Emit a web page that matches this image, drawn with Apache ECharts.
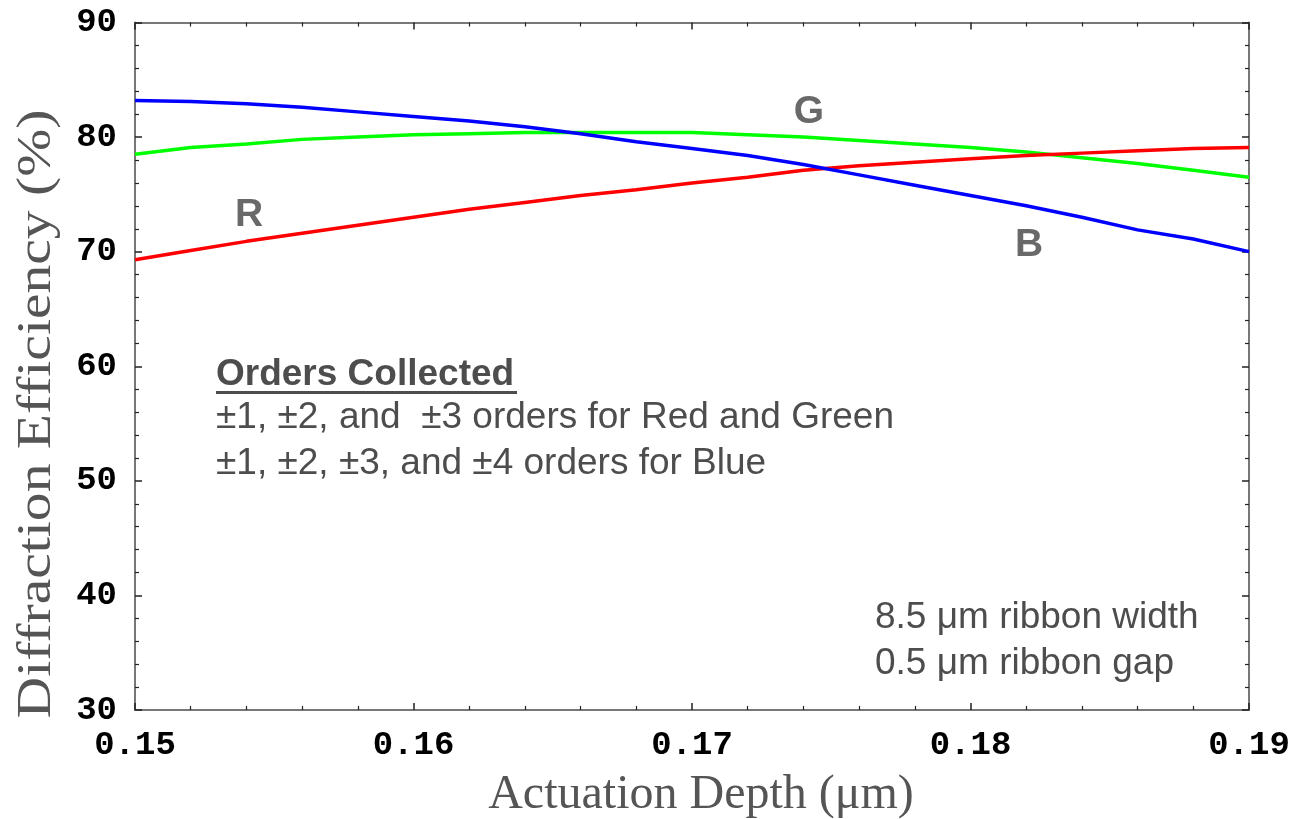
<!DOCTYPE html>
<html>
<head>
<meta charset="utf-8">
<title>Diffraction Efficiency vs Actuation Depth</title>
<script src="https://cdn.jsdelivr.net/npm/echarts@6/dist/echarts.min.js"></script>
<style>
  html, body { margin: 0; padding: 0; background: #fff; }
  #chart { width: 1295px; height: 819px; }
</style>
</head>
<body>
<div id="chart"></div>
<script>
// Actuation depth samples (µm)
const depths = [0.150, 0.152, 0.154, 0.156, 0.158, 0.160, 0.162, 0.164, 0.166, 0.168,
                0.170, 0.172, 0.174, 0.176, 0.178, 0.180, 0.182, 0.184, 0.186, 0.188, 0.190];

// Diffraction efficiency (%) per colour channel
const redEff   = [69.3, 70.1, 70.9, 71.6, 72.3, 73.0, 73.7, 74.3, 74.9, 75.4,
                  76.0, 76.5, 77.1, 77.5, 77.8, 78.1, 78.4, 78.6, 78.8, 79.0, 79.1];
const greenEff = [78.5, 79.1, 79.4, 79.8, 80.0, 80.2, 80.3, 80.4, 80.4, 80.4,
                  80.4, 80.2, 80.0, 79.7, 79.4, 79.1, 78.7, 78.2, 77.7, 77.1, 76.5];
const blueEff  = [83.2, 83.1, 82.9, 82.6, 82.2, 81.8, 81.4, 80.9, 80.3, 79.6,
                  79.0, 78.4, 77.6, 76.7, 75.8, 74.9, 74.0, 73.0, 71.9, 71.1, 70.0];

// Curve name tags: [depth, efficiency, text]
const curveTags = [
  [0.1541, 73.2, 'R'],
  [0.1742, 82.2, 'G'],
  [0.1821, 70.6, 'B']
];

// Axis ranges and tick steps
const xRange = [0.15, 0.19], xStep = 0.01;
const yRange = [30, 90], yStep = 10;

// Explanatory notes
const ordersTitle = 'Orders Collected';
const ordersLines = ['±1, ±2, and  ±3 orders for Red and Green',
                     '±1, ±2, ±3, and ±4 orders for Blue'];
const ribbonLines = ['8.5 μm ribbon width', '0.5 μm ribbon gap'];
const xTitle = 'Actuation Depth (μm)';
const yTitle = 'Diffraction Efficiency (%)';

const pair = (ys) => depths.map((d, i) => [d, ys[i]]);

const tickFont = {
  fontFamily: '"Liberation Mono", "DejaVu Sans Mono", monospace',
  fontWeight: 'bold', fontSize: 34, color: '#000'
};
const noteFont = '37px "Liberation Sans", Arial, sans-serif';
const noteColor = '#4d4d4d';

function makeAxis(kind, position, showLabels) {
  const isX = kind === 'x';
  return {
    type: 'value',
    position: position,
    min: isX ? xRange[0] : yRange[0],
    max: isX ? xRange[1] : yRange[1],
    interval: isX ? xStep : yStep,
    axisLine: { show: true, onZero: false, lineStyle: { color: '#777', width: 2 } },
    axisTick: { show: true, inside: true, length: 7, lineStyle: { color: '#222', width: 1.5 } },
    minorTick: { show: true, splitNumber: 5, length: 4, lineStyle: { color: '#222', width: 1.2 } },
    splitLine: { show: false },
    minorSplitLine: { show: false },
    axisLabel: Object.assign({
      show: showLabels,
      margin: 18,
      formatter: isX ? (v) => v.toFixed(2) : (v) => String(Math.round(v))
    }, tickFont)
  };
}

const chart = echarts.init(document.getElementById('chart'), null, { renderer: 'canvas' });

chart.setOption({
  backgroundColor: '#fff',
  animation: false,
  grid: { left: 135, right: 46, top: 22.5, bottom: 109, containLabel: false },
  xAxis: [makeAxis('x', 'bottom', true), makeAxis('x', 'top', false)],
  yAxis: [makeAxis('y', 'left', true), makeAxis('y', 'right', false)],
  series: [
    { name: 'Red', type: 'line', data: pair(redEff), showSymbol: false,
      lineStyle: { color: '#ff0000', width: 3.5 }, itemStyle: { color: '#ff0000' }, z: 3 },
    { name: 'Green', type: 'line', data: pair(greenEff), showSymbol: false,
      lineStyle: { color: '#00ff00', width: 3.5 }, itemStyle: { color: '#00ff00' }, z: 2 },
    { name: 'Blue', type: 'line', data: pair(blueEff), showSymbol: false,
      lineStyle: { color: '#0000ff', width: 3.5 }, itemStyle: { color: '#0000ff' }, z: 4 },
    { name: 'tags', type: 'scatter', symbolSize: 0, silent: true,
      data: curveTags.map(t => ({ value: [t[0], t[1]], name: t[2] })),
      label: {
        show: true, position: 'inside', formatter: (p) => p.name,
        fontFamily: '"Liberation Sans", Arial, sans-serif', fontWeight: 'bold',
        fontSize: 39, color: '#444'
      }
    }
  ],
  graphic: [
    { type: 'text', left: 216, top: 356,
      style: { text: ordersTitle, font: 'bold ' + noteFont, fill: noteColor } },
    { type: 'rect', shape: { x: 216, y: 391, width: 301, height: 3 },
      style: { fill: noteColor } },
    { type: 'text', left: 216, top: 399,
      style: { text: ordersLines[0], font: noteFont, fill: noteColor } },
    { type: 'text', left: 216, top: 445,
      style: { text: ordersLines[1], font: noteFont, fill: noteColor } },
    { type: 'text', left: 875, top: 599,
      style: { text: ribbonLines[0], font: noteFont, fill: noteColor } },
    { type: 'text', left: 875, top: 645,
      style: { text: ribbonLines[1], font: noteFont, fill: noteColor } },
    { type: 'text', x: 701, y: 795,
      style: { text: xTitle, font: '48px "Liberation Serif", "Times New Roman", serif',
               fill: '#555', textAlign: 'center', textVerticalAlign: 'middle' } },
    { type: 'text', x: 37, y: 414, rotation: Math.PI / 2, scaleX: 1.2,
      style: { text: yTitle, font: '48px "Liberation Serif", "Times New Roman", serif',
               fill: '#555', textAlign: 'center', textVerticalAlign: 'middle' } }
  ]
});
</script>
</body>
</html>
